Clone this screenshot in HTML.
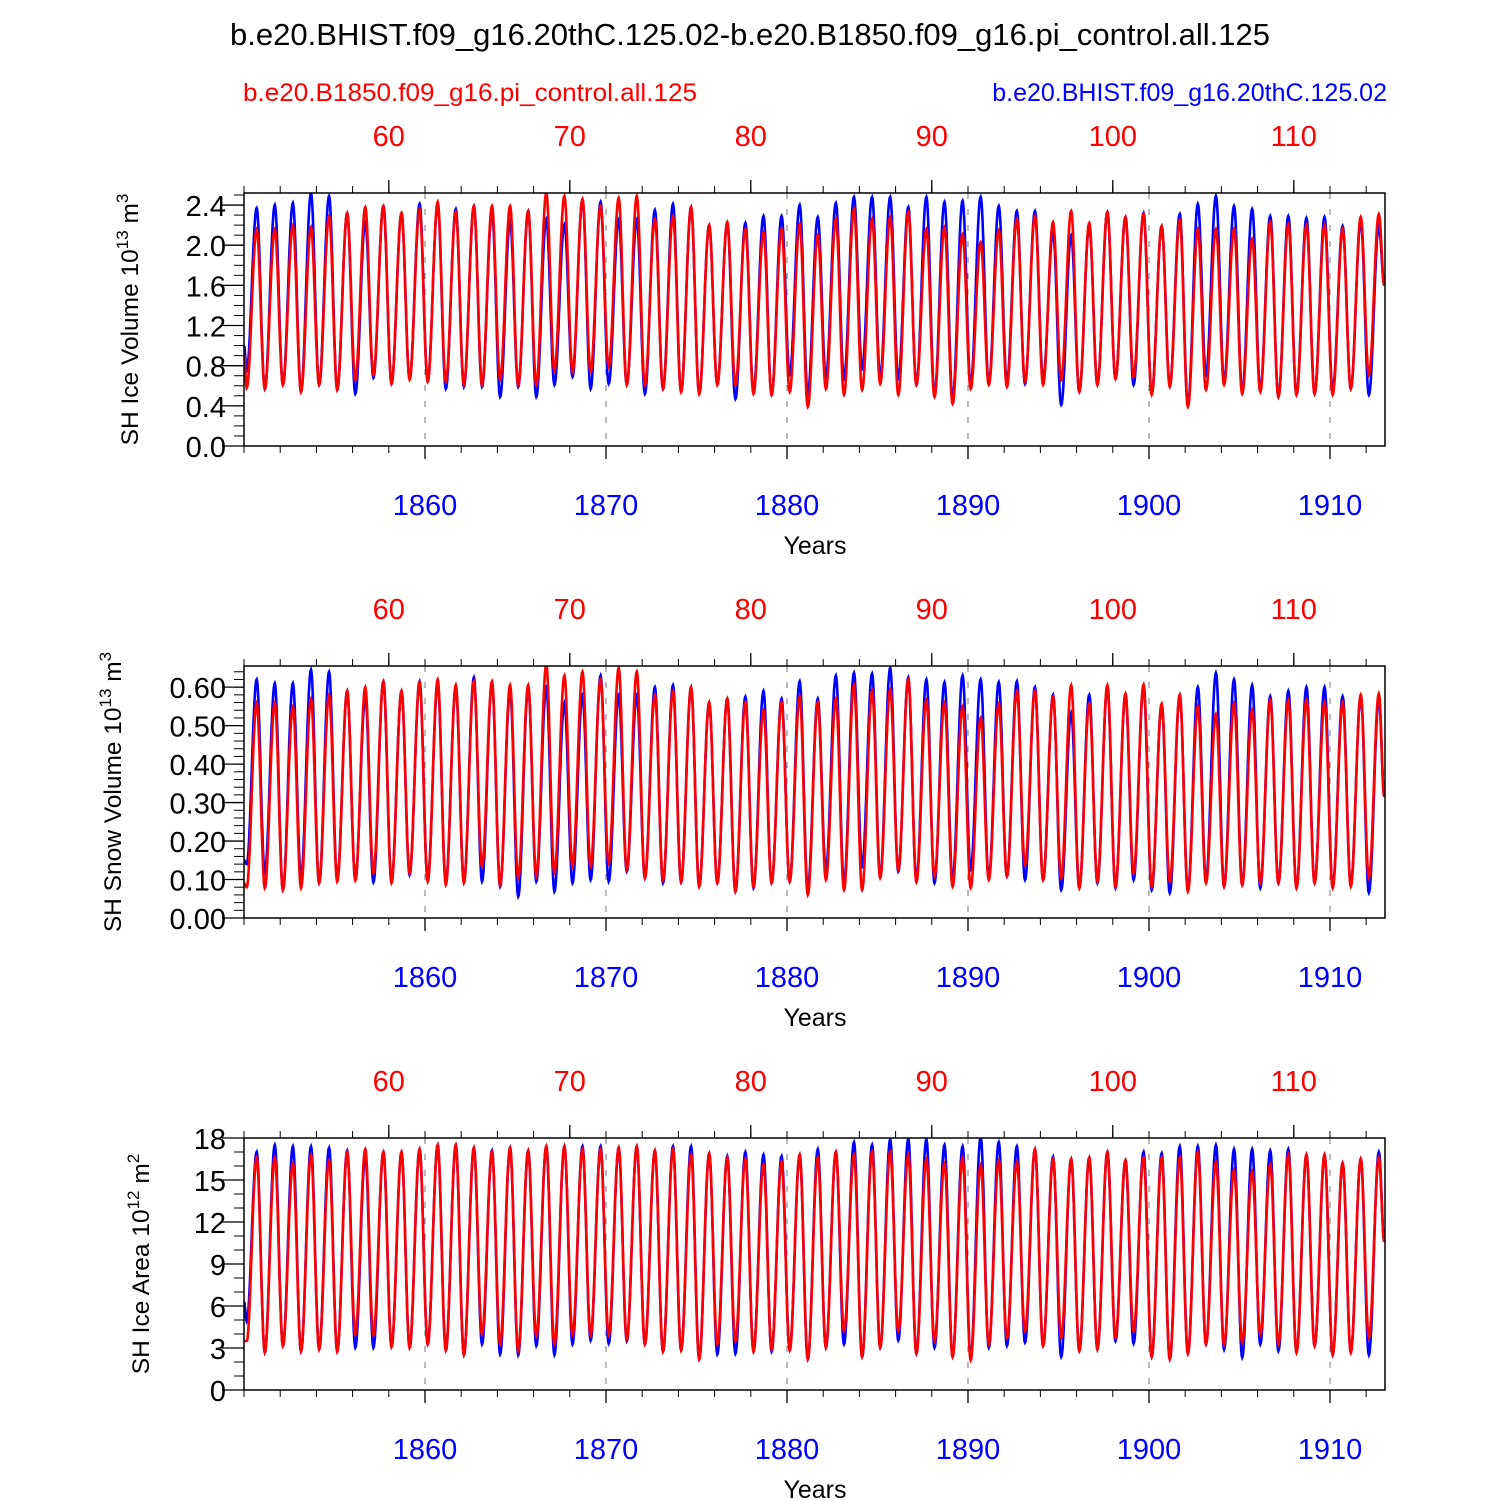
<!DOCTYPE html>
<html><head><meta charset="utf-8"><style>
body{margin:0;background:#fff}
svg{display:block;font-family:"Liberation Sans",sans-serif}
</style></head><body>
<svg id="c" width="1500" height="1500" viewBox="0 0 1500 1500" xmlns="http://www.w3.org/2000/svg">
<rect width="1500" height="1500" fill="#fff"/>
<text x="750" y="45" font-size="30.5" text-anchor="middle" textLength="1040" lengthAdjust="spacingAndGlyphs">b.e20.BHIST.f09_g16.20thC.125.02-b.e20.B1850.f09_g16.pi_control.all.125</text>
<text x="243" y="101" font-size="25" fill="#f00" textLength="454" lengthAdjust="spacingAndGlyphs">b.e20.B1850.f09_g16.pi_control.all.125</text>
<text x="1387" y="101" font-size="25" fill="#00f" text-anchor="end">b.e20.BHIST.f09_g16.20thC.125.02</text>
</svg>
<script>
// years 1850..1912: annual peak (Sep/Oct) and trough (Feb/Mar) values
const years = Array.from({length:63},(_,i)=>1850+i);
const volPeakB=[2.37,2.40,2.42,2.52,2.49,2.32,2.23,2.39,2.32,2.41,2.41,2.36,2.39,2.33,2.24,2.34,2.26,2.21,2.45,2.43,2.26,2.26,2.35,2.41,2.38,2.20,2.22,2.22,2.29,2.29,2.40,2.28,2.42,2.48,2.48,2.48,2.38,2.48,2.43,2.44,2.48,2.39,2.34,2.34,2.13,2.10,2.19,2.33,2.28,2.32,2.19,2.31,2.41,2.49,2.39,2.36,2.29,2.29,2.27,2.28,2.19,2.24,2.19];
const volPeakR=[2.16,2.16,2.20,2.18,2.29,2.32,2.38,2.39,2.32,2.36,2.43,2.33,2.39,2.39,2.39,2.34,2.52,2.49,2.46,2.39,2.47,2.49,2.26,2.29,2.38,2.20,2.23,2.16,2.13,2.16,2.21,2.10,2.26,2.36,2.26,2.28,2.33,2.16,2.18,2.11,2.03,2.15,2.26,2.29,2.23,2.34,2.22,2.33,2.28,2.31,2.19,2.25,2.16,2.16,2.16,2.06,2.23,2.21,2.20,2.20,2.16,2.28,2.31];
const volTroughB=[0.75,0.57,0.61,0.54,0.61,0.56,0.52,0.68,0.62,0.67,0.65,0.57,0.59,0.59,0.49,0.59,0.49,0.61,0.69,0.57,0.62,0.61,0.52,0.57,0.54,0.52,0.61,0.47,0.54,0.51,0.71,0.52,0.69,0.67,0.77,0.69,0.67,0.61,0.51,0.47,0.61,0.62,0.64,0.62,0.67,0.41,0.54,0.61,0.67,0.61,0.52,0.61,0.41,0.71,0.64,0.54,0.56,0.49,0.51,0.52,0.56,0.57,0.51];
const volTroughR=[0.58,0.57,0.61,0.54,0.61,0.56,0.66,0.71,0.62,0.66,0.64,0.64,0.61,0.61,0.66,0.61,0.61,0.75,0.74,0.74,0.79,0.61,0.61,0.57,0.54,0.52,0.61,0.61,0.52,0.51,0.54,0.39,0.57,0.51,0.56,0.62,0.51,0.61,0.49,0.42,0.57,0.61,0.59,0.64,0.61,0.66,0.54,0.61,0.67,0.69,0.51,0.59,0.39,0.56,0.61,0.52,0.54,0.49,0.51,0.52,0.51,0.57,0.71];
const snowPeakB=[0.62,0.61,0.61,0.645,0.64,0.59,0.575,0.615,0.59,0.615,0.61,0.60,0.625,0.61,0.59,0.60,0.60,0.56,0.58,0.63,0.58,0.58,0.60,0.605,0.60,0.56,0.57,0.575,0.59,0.57,0.615,0.57,0.63,0.637,0.635,0.65,0.625,0.62,0.613,0.63,0.62,0.613,0.615,0.60,0.58,0.535,0.58,0.60,0.58,0.60,0.555,0.58,0.60,0.637,0.62,0.605,0.576,0.59,0.60,0.60,0.576,0.575,0.57];
const snowPeakR=[0.56,0.56,0.55,0.57,0.58,0.59,0.60,0.615,0.59,0.613,0.62,0.605,0.615,0.615,0.605,0.605,0.66,0.63,0.64,0.62,0.65,0.64,0.58,0.59,0.60,0.56,0.57,0.56,0.54,0.56,0.575,0.56,0.57,0.605,0.59,0.594,0.62,0.566,0.56,0.55,0.52,0.557,0.59,0.59,0.575,0.605,0.557,0.605,0.583,0.607,0.557,0.58,0.55,0.53,0.557,0.54,0.566,0.566,0.567,0.56,0.56,0.58,0.583];
const snowTroughB=[0.14,0.117,0.073,0.104,0.091,0.099,0.099,0.093,0.095,0.112,0.099,0.091,0.095,0.095,0.082,0.056,0.095,0.069,0.091,0.099,0.095,0.121,0.104,0.091,0.093,0.082,0.091,0.069,0.078,0.091,0.095,0.078,0.126,0.091,0.134,0.108,0.121,0.099,0.091,0.099,0.126,0.104,0.108,0.099,0.099,0.073,0.078,0.091,0.078,0.099,0.073,0.065,0.073,0.099,0.082,0.086,0.078,0.091,0.078,0.091,0.082,0.086,0.066];
const snowTroughR=[0.08,0.078,0.073,0.078,0.091,0.095,0.098,0.117,0.091,0.117,0.095,0.086,0.091,0.134,0.086,0.104,0.108,0.117,0.134,0.134,0.143,0.126,0.104,0.099,0.095,0.082,0.091,0.069,0.082,0.091,0.095,0.060,0.099,0.073,0.073,0.104,0.126,0.093,0.108,0.082,0.078,0.099,0.108,0.138,0.099,0.104,0.078,0.095,0.082,0.117,0.082,0.095,0.069,0.091,0.082,0.086,0.091,0.091,0.078,0.091,0.078,0.082,0.104];
const areaPeakB=[17.0,17.5,17.4,17.4,17.3,17.1,16.7,17.0,17.0,17.2,17.5,17.5,17.3,17.1,17.3,17.1,17.4,17.4,17.4,17.4,17.3,17.4,17.1,17.4,17.4,16.9,16.7,17.0,16.8,16.7,16.8,17.2,17.0,17.7,17.5,17.9,17.95,17.9,17.5,17.4,18.1,17.7,17.4,17.2,16.65,16.5,16.6,17.0,16.4,17.0,16.9,17.4,17.4,17.5,17.2,17.2,17.1,17.2,16.8,16.8,16.2,16.5,17.0];
const areaPeakR=[16.6,16.6,16.2,16.8,16.4,17.0,17.2,17.0,17.0,17.2,17.5,17.5,17.3,17.0,17.3,17.1,17.4,17.4,17.2,17.2,17.3,17.4,17.1,17.2,16.8,16.9,16.6,16.5,16.1,16.3,16.8,16.6,17.0,16.8,17.0,17.0,16.8,16.5,16.2,16.6,16.1,16.4,16.3,17.2,16.5,16.5,16.6,17.0,16.4,16.6,16.6,16.6,17.0,16.3,15.7,15.6,16.1,16.8,16.8,16.8,16.2,16.5,16.6];
const areaTroughB=[4.9,2.68,3.15,2.75,2.91,2.75,3.03,3.03,3.08,3.03,3.27,2.84,2.51,3.27,2.56,2.51,3.15,2.51,3.27,3.55,3.32,3.50,3.27,2.75,2.84,2.20,2.56,2.60,2.75,2.75,2.84,2.20,3.03,3.27,2.37,3.03,3.55,2.60,3.03,2.37,2.32,3.03,3.15,3.39,3.15,2.37,2.79,2.91,3.50,3.32,2.37,2.20,2.60,3.27,2.91,2.32,3.27,2.79,2.68,3.15,2.51,2.68,2.51];
const areaTroughR=[3.5,2.68,3.15,2.75,2.91,2.75,3.98,3.93,3.08,3.03,3.27,2.84,2.51,3.98,3.27,2.79,3.86,3.27,3.93,3.93,3.93,3.62,3.27,2.75,2.84,2.20,3.27,3.50,2.75,2.91,2.84,2.20,3.03,4.21,2.37,3.03,4.21,2.60,3.50,2.37,2.13,3.27,3.74,4.21,3.15,3.74,2.79,2.91,3.74,4.21,2.37,2.20,2.60,3.27,3.27,3.39,3.98,3.27,2.68,3.15,2.51,2.68,3.74];
const startB=[1.0,0.15,6.3], startR=[0.9,0.09,3.5], endB=[1.6,0.315,10.6], endR=[1.6,0.315,10.6];
const topTicks=[60,70,80,90,100,110];
const botTicks=[1860,1870,1880,1890,1900,1910];
const panels=[
 {top:193,bot:446,ymax:2.52,yt:[0,0.4,0.8,1.2,1.6,2.0,2.4],dec:1,minor:0.1,title:["SH Ice Volume 10","13"," m","3"],tx:130,
  pb:volPeakB,pr:volPeakR,tb:volTroughB,tr:volTroughR},
 {top:666,bot:918,ymax:0.655,yt:[0,0.1,0.2,0.3,0.4,0.5,0.6],dec:2,minor:0.02,title:["SH Snow Volume 10","13"," m","3"],tx:113,
  pb:snowPeakB,pr:snowPeakR,tb:snowTroughB,tr:snowTroughR},
 {top:1138,bot:1390,ymax:18,yt:[0,3,6,9,12,15,18],dec:0,minor:1,title:["SH Ice Area 10","12"," m","2"],tx:141,
  pb:areaPeakB,pr:areaPeakR,tb:areaTroughB,tr:areaTroughR}
];
const svg=document.getElementById('c'), NS='http://www.w3.org/2000/svg';
const L=244,R=1385,X0=1850,X1=1913.04;
const xs=t=>L+(t-X0)/(X1-X0)*(R-L);
function el(tag,attrs,parent){const e=document.createElementNS(NS,tag);for(const k in attrs)e.setAttribute(k,attrs[k]);(parent||svg).appendChild(e);return e;}
function series(start,tr,pk,end){
 const kn=[[X0,start]];
 years.forEach((y,i)=>{kn.push([y+0.15,tr[i]]);kn.push([y+0.70,pk[i]]);});
 kn.push([1913.0,end]);
 const pts=[];
 for(let k=0;k<kn.length-1;k++){const [t0,v0]=kn[k],[t1,v1]=kn[k+1];
  const n=Math.max(2,Math.round((t1-t0)*40));
  for(let j=0;j<n;j++){const f=j/n;const s=(1-Math.cos(Math.PI*f))/2;pts.push([t0+(t1-t0)*f,v0+(v1-v0)*s]);}}
 pts.push(kn[kn.length-1]);return pts;}
panels.forEach((p,pi)=>{
 const g=el('g',{});
 
 
 const ys=v=>p.bot-v/p.ymax*(p.bot-p.top);
 botTicks.forEach(t=>{const ln=el('line',{x1:xs(t),x2:xs(t),y1:p.top,y2:p.bot,stroke:'#777','stroke-width':1,'stroke-dasharray':'6,10'},g);
  });
 const clip='cl'+pi;const cp=el('clipPath',{id:clip},g);el('rect',{x:L,y:p.top,width:R-L,height:p.bot-p.top},cp);
 [['blue',p.pb,p.tb,startB[pi],endB[pi]],['red',p.pr,p.tr,startR[pi],endR[pi]]].forEach(([c,pk,tr,s,e])=>{
  const d=series(s,tr,pk,e).map((q,i)=>(i?'L':'M')+xs(q[0]).toFixed(1)+','+ys(q[1]).toFixed(1)).join('');
  const path=el('path',{d:d,fill:'none',stroke:c==='blue'?'#00f':'#f00','stroke-width':2.6,'clip-path':'url(#'+clip+')'},g);
  
  });
 const fr=el('rect',{x:L,y:p.top,width:R-L,height:p.bot-p.top,fill:'none',stroke:'#000','stroke-width':1.5},g);
 
 for(let y=1850;y<=1913;y+=2){const x=xs(y);if(x<L||x>R)continue;
  el('line',{x1:x,x2:x,y1:p.bot,y2:p.bot+7,stroke:'#000','stroke-width':1},g);}
 botTicks.forEach(t=>{const x=xs(t);el('line',{x1:x,x2:x,y1:p.bot,y2:p.bot+13,stroke:'#000','stroke-width':1.3},g);
  const tx=el('text',{x:x,y:p.bot+69,'font-size':29,fill:'#00f','text-anchor':'middle'},g);tx.textContent=t;
  });
 for(let y=1850;y<=1913;y+=2){const x=xs(y);if(x<L||x>R)continue;
  el('line',{x1:x,x2:x,y1:p.top,y2:p.top-7,stroke:'#000','stroke-width':1},g);}
 topTicks.forEach(t=>{const x=xs(t+1798);el('line',{x1:x,x2:x,y1:p.top,y2:p.top-13,stroke:'#000','stroke-width':1.3},g);
  const tx=el('text',{x:x,y:p.top-47,'font-size':29,fill:'#f00','text-anchor':'middle'},g);tx.textContent=t;
  });
 const yl=el('text',{x:815,y:p.bot+108,'font-size':25,'text-anchor':'middle'},g);yl.textContent='Years';
 
 for(let v=0;v<=p.ymax+1e-9;v+=p.minor){el('line',{x1:L,x2:L-10,y1:ys(v),y2:ys(v),stroke:'#000','stroke-width':1},g);}
 p.yt.forEach(v=>{el('line',{x1:L,x2:L-22,y1:ys(v),y2:ys(v),stroke:'#000','stroke-width':1.3},g);
  const tx=el('text',{x:226,y:ys(v)+11,'font-size':29,'text-anchor':'end'},g);tx.textContent=v.toFixed(p.dec);
  });
 const cy=(p.top+p.bot)/2;
 const tt=el('text',{transform:'translate('+(p.tx+8)+','+cy+') rotate(-90)','font-size':24.5,'text-anchor':'middle'},g);
 
 const parts=p.title;
 const a=el('tspan',{},tt);a.textContent=parts[0];
 const b=el('tspan',{dy:-10,'font-size':17},tt);b.textContent=parts[1];
 const c2=el('tspan',{dy:10},tt);c2.textContent=parts[2];
 const d=el('tspan',{dy:-10,'font-size':17},tt);d.textContent=parts[3];
});
</script>
</body></html>
